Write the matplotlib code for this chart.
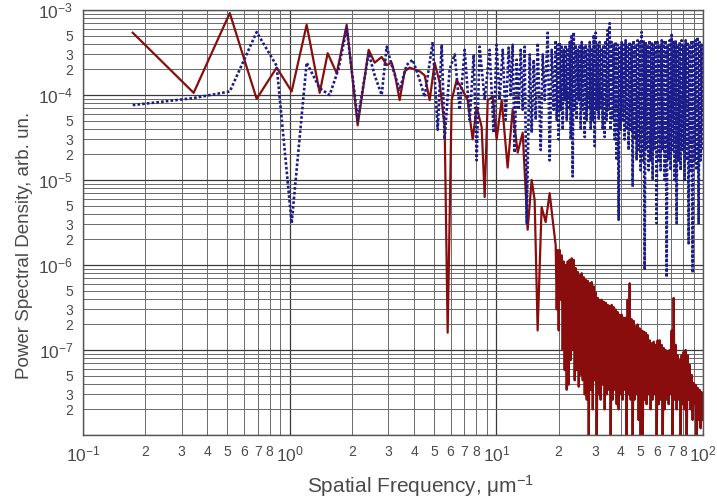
import numpy as np
import matplotlib.pyplot as plt
from matplotlib.ticker import LogLocator, FuncFormatter

plt.rcParams['font.family'] = ['Liberation Sans', 'DejaVu Sans']
plt.rcParams['mathtext.fontset'] = 'custom'
plt.rcParams['mathtext.rm'] = 'Liberation Sans'
plt.rcParams['mathtext.it'] = 'Liberation Sans:italic'

# low-frequency part of each spectrum (um^-1, arb. un.)
red_lf_freq = [0.174, 0.343, 0.513, 0.692, 0.865, 1.022, 1.208, 1.397, 1.527, 1.688,
               1.887, 2.133, 2.411, 2.578, 2.787, 2.947, 3.115, 3.221, 3.405, 3.601,
               3.807, 4.024, 4.255, 4.499, 4.757, 5.029, 5.317, 5.622, 5.813, 6.078,
               6.427, 6.795, 7.263, 7.68, 8.03, 8.49, 8.78, 9.08, 9.60, 10.03,
               10.61, 11.34, 11.99, 12.68, 13.41, 14.17, 14.82, 15.32, 15.84, 16.56,
               17.32, 18.11, 18.73]
red_lf_psd = [5.4e-4, 1.06e-4, 9.2e-4, 9.0e-5, 2.1e-4, 1.1e-4, 6.7e-4, 1.06e-4, 3.1e-4, 1.8e-4,
              6.7e-4, 4.4e-5, 3.4e-4, 2.4e-4, 2.8e-4, 2.25e-4, 2.4e-4, 1.8e-4, 8.7e-5, 1.9e-4,
              2.1e-4, 2.0e-4, 1.9e-4, 1.7e-4, 8.7e-5, 2.4e-4, 1.4e-4, 4.2e-5, 1.6e-7, 8.7e-5,
              1.5e-4, 1.2e-4, 8.7e-5, 3.0e-5, 7.2e-5, 4.2e-5, 6.3e-6, 8.7e-5, 9.5e-5, 3.0e-5,
              8.7e-5, 1.4e-5, 6.7e-5, 2.1e-5, 3.6e-5, 2.6e-6, 1.0e-5, 5.8e-6, 1.7e-7, 4.8e-6,
              3.2e-6, 7.0e-6, 3.4e-6]

blue_lf_freq = [0.174, 0.343, 0.513, 0.692, 0.865, 1.022, 1.208, 1.397, 1.561, 1.72,
                1.887, 2.133, 2.411, 2.578, 2.787, 2.947, 3.115, 3.405, 3.68, 3.94,
                4.255, 4.499, 4.92, 5.20, 5.44, 5.62, 5.94, 6.29, 6.645, 7.025,
                7.43, 7.77, 8.03, 8.30, 8.78, 9.28, 9.70, 10.03, 10.37, 10.73,
                11.09, 11.47, 11.73, 11.99, 12.26, 12.54, 12.82, 13.11, 13.41, 13.71,
                14.02, 14.50, 14.82, 15.16, 15.50, 15.85, 16.39, 16.76, 17.14, 17.72,
                18.12, 18.53, 18.94]
blue_lf_psd = [7.6e-5, 9.2e-5, 1.1e-4, 5.5e-4, 2.2e-4, 3.1e-6, 2.4e-4, 1.2e-4, 1.0e-4, 2.0e-4,
               6.1e-4, 5.1e-5, 3.1e-4, 1.7e-4, 1.0e-4, 3.7e-4, 2.25e-4, 1.15e-4, 2.25e-4, 2.6e-4,
               1.5e-4, 9.5e-5, 4.2e-4, 3.9e-5, 3.9e-4, 3.0e-5, 2.0e-4, 3.0e-4, 6.7e-5, 3.4e-4,
               5.1e-5, 3.0e-4, 1.7e-5, 3.7e-4, 8.7e-5, 3.4e-4, 3.6e-5, 3.9e-4, 8.7e-5, 3.4e-4,
               5.1e-5, 3.6e-4, 1.0e-4, 3.9e-4, 2.1e-5, 2.6e-4, 6.7e-5, 3.4e-4, 6.7e-5, 3.7e-4,
               3.1e-6, 3.0e-4, 3.6e-5, 2.6e-4, 5.1e-5, 4.1e-4, 2.25e-5, 3.0e-4, 8.7e-5, 5.4e-4,
               1.7e-5, 3.4e-4, 6.7e-5]

# high-frequency part, shared frequency samples for both spectra
hf_freq = [19.37, 19.59, 19.81, 20.03, 20.25, 20.48, 20.71, 20.94, 21.18, 21.41,
           21.65, 21.90, 22.14, 22.39, 22.64, 22.90, 23.15, 23.41, 23.68, 23.94,
           24.21, 24.48, 24.76, 25.04, 25.32, 25.60, 25.89, 26.18, 26.47, 26.77,
           27.07, 27.37, 27.68, 27.99, 28.30, 28.62, 28.94, 29.27, 29.60, 29.93,
           30.26, 30.60, 30.95, 31.29, 31.61, 31.96, 32.33, 32.69, 33.06, 33.43,
           33.80, 34.18, 34.56, 34.95, 35.34, 35.74, 36.14, 36.54, 36.95, 37.36,
           37.78, 38.20, 38.63, 39.06, 39.50, 39.94, 40.39, 40.84, 41.30, 41.76,
           42.23, 42.70, 43.18, 43.66, 44.16, 44.65, 45.15, 45.66, 46.17, 46.69,
           47.21, 47.74, 48.27, 48.81, 49.36, 49.91, 50.47, 51.04, 51.61, 52.19,
           52.77, 53.36, 53.96, 54.56, 55.18, 55.80, 56.42, 57.05, 57.69, 58.34,
           58.99, 59.65, 60.32, 61.00, 61.68, 62.37, 63.07, 63.78, 64.49, 65.21,
           65.94, 66.68, 67.43, 68.19, 68.95, 69.72, 70.50, 71.29, 72.09, 72.90,
           73.71, 74.54, 75.37, 76.21, 77.07, 77.93, 78.80, 79.68, 80.58, 81.48,
           82.39, 83.31, 84.25, 85.19, 86.14, 87.10, 88.08, 89.07, 90.06, 91.07,
           92.09, 93.12, 94.16, 95.21, 96.28, 97.36, 98.45, 100.0]
red_hf_psd = [1.7e-6, 3.0e-7, 1.5e-6, 1.7e-7, 1.5e-6, 3.9e-7, 1.3e-6, 1.0e-7, 1.1e-6, 5.8e-8,
              1.0e-6, 3.4e-8, 1.1e-6, 3.9e-8, 1.15e-6, 7.6e-8, 1.2e-6, 1.0e-7, 1.15e-6, 4.4e-8,
              9.2e-7, 5.8e-8, 8.3e-7, 3.7e-8, 7.6e-7, 5.1e-8, 8.0e-7, 4.4e-8, 7.2e-7, 3.0e-8,
              6.7e-7, 2.6e-8, 6.5e-7, 6e-9, 6.1e-7, 3.4e-8, 6.3e-7, 2.0e-8, 5.6e-7, 4.4e-8,
              4.8e-7, 6e-9, 4.1e-7, 3.0e-8, 3.9e-7, 2.6e-8, 3.9e-7, 3.9e-8, 3.7e-7, 2.0e-8,
              3.6e-7, 3.0e-8, 3.4e-7, 3.4e-8, 3.3e-7, 6e-9, 3.4e-7, 2.6e-8, 3.2e-7, 3.4e-8,
              3.0e-7, 2.3e-8, 2.8e-7, 2.0e-8, 2.6e-7, 3.0e-8, 2.6e-7, 2.6e-8, 2.4e-7, 3.4e-8,
              2.4e-7, 6e-9, 3.9e-7, 3.0e-8, 6.1e-7, 2.6e-8, 2.3e-7, 6e-9, 2.2e-7, 2.6e-8,
              1.9e-7, 3.0e-8, 2.0e-7, 1.5e-8, 1.8e-7, 6e-9, 1.7e-7, 6e-9, 1.65e-7, 2.6e-8,
              1.6e-7, 2.3e-8, 1.5e-7, 3.0e-8, 1.3e-7, 2.0e-8, 1.2e-7, 2.6e-8, 1.25e-7, 3.0e-8,
              1.15e-7, 6e-9, 1.3e-7, 2.3e-8, 1.3e-7, 2.6e-8, 1.15e-7, 6e-9, 1.06e-7, 2.0e-8,
              1.0e-7, 2.6e-8, 9.5e-8, 2.3e-8, 1.0e-7, 3.0e-8, 1.7e-7, 6e-9, 4.1e-7, 2.6e-8,
              1.15e-7, 2.0e-8, 8.7e-8, 2.6e-8, 7.6e-8, 6e-9, 8.7e-8, 2.3e-8, 9.5e-8, 2.0e-8,
              1.0e-7, 6e-9, 8.7e-8, 2.6e-8, 6.7e-8, 2.0e-8, 5.1e-8, 1.5e-8, 4.1e-8, 2.3e-8,
              3.9e-8, 6e-9, 3.6e-8, 1.5e-8, 3.4e-8, 1.2e-8, 3.2e-8, 1.5e-8]
blue_hf_psd = [4.4e-4, 5.1e-5, 3.9e-4, 3.0e-5, 4.2e-4, 6.7e-5, 3.9e-4, 3.9e-5, 3.4e-4, 8.7e-5,
               3.9e-4, 5.1e-5, 3.6e-4, 6.7e-5, 4.2e-4, 3.0e-5, 5.1e-4, 1.1e-5, 5.5e-4, 6.7e-5,
               3.9e-4, 5.1e-5, 3.4e-4, 8.7e-5, 3.9e-4, 3.9e-5, 4.2e-4, 6.7e-5, 3.6e-4, 3.2e-5,
               3.9e-4, 5.1e-5, 3.4e-4, 6.7e-5, 4.2e-4, 3.9e-5, 3.6e-4, 5.1e-5, 5.1e-4, 2.5e-5,
               5.4e-4, 6.7e-5, 3.9e-4, 5.1e-5, 4.2e-4, 6.7e-5, 3.6e-4, 3.9e-5, 3.9e-4, 3.2e-5,
               4.4e-4, 5.1e-5, 5.8e-4, 6.7e-5, 7.0e-4, 3.9e-5, 4.2e-4, 5.1e-5, 3.9e-4, 3.0e-5,
               4.2e-4, 1.7e-5, 3.9e-4, 3.4e-6, 3.6e-4, 3.9e-5, 4.2e-4, 5.1e-5, 3.9e-4, 3.0e-5,
               4.4e-4, 3.9e-5, 3.9e-4, 2.25e-5, 4.2e-4, 3.9e-5, 3.9e-4, 8.3e-6, 4.4e-4, 3.0e-5,
               3.9e-4, 1.7e-5, 4.4e-4, 2.25e-5, 4.2e-4, 1.3e-5, 5.5e-4, 1.7e-5, 4.4e-4, 8.7e-7,
               4.2e-4, 2.25e-5, 3.9e-4, 1.3e-5, 4.4e-4, 1.7e-5, 4.2e-4, 1.0e-5, 3.9e-4, 2.25e-5,
               4.4e-4, 3.1e-6, 4.2e-4, 1.7e-5, 3.9e-4, 1.3e-5, 4.4e-4, 2.25e-5, 4.2e-4, 1.0e-5,
               4.4e-4, 7.2e-7, 3.9e-4, 1.7e-5, 4.4e-4, 1.3e-5, 5.1e-4, 2.25e-5, 4.2e-4, 1.0e-5,
               4.4e-4, 3.1e-6, 3.9e-4, 1.7e-5, 4.2e-4, 1.3e-5, 4.4e-4, 2.25e-5, 3.9e-4, 1.0e-5,
               4.4e-4, 1.7e-5, 4.2e-4, 1.8e-6, 3.9e-4, 1.3e-5, 4.4e-4, 8.1e-7, 4.2e-4, 1.7e-5,
               4.4e-4, 1.3e-5, 4.8e-4, 3.1e-6, 4.2e-4, 1.7e-5, 3.9e-4, 2.25e-5]

x_label = 'Spatial Frequency, \u03bcm$^{-1}$'
y_label = 'Power Spectral Density, arb. un.'

text_color = '#4a4a4a'

red_freq = red_lf_freq + hf_freq
red_psd = red_lf_psd + red_hf_psd
blue_freq = blue_lf_freq + hf_freq
blue_psd = blue_lf_psd + blue_hf_psd

fig = plt.figure(figsize=(7.17, 5.04), dpi=100)
ax = fig.add_axes([0.1158, 0.1369, 0.8647, 0.8433])

ax.set_xscale('log')
ax.set_yscale('log')
ax.set_xlim(0.1, 100)
ax.set_ylim(1e-8, 1e-3)

# log grid with every decade subdivision
ax.xaxis.set_major_locator(LogLocator(base=10, numticks=10))
ax.xaxis.set_minor_locator(LogLocator(base=10, subs=np.arange(2, 10), numticks=20))
ax.yaxis.set_major_locator(LogLocator(base=10, numticks=10))
ax.yaxis.set_minor_locator(LogLocator(base=10, subs=np.arange(2, 10), numticks=20))


def major_fmt(skip=None):
    def fmt(v, pos):
        p = int(round(np.log10(v)))
        if p == skip:
            return ''
        return '$10^{%d}$' % p
    return fmt


def minor_fmt(keep):
    def fmt(v, pos):
        m = int(round(v / 10 ** np.floor(np.log10(v) + 1e-9)))
        return str(m) if m in keep else ''
    return fmt


ax.xaxis.set_major_formatter(FuncFormatter(major_fmt()))
ax.yaxis.set_major_formatter(FuncFormatter(major_fmt(skip=-8)))
ax.xaxis.set_minor_formatter(FuncFormatter(minor_fmt((2, 3, 4, 5, 6, 7, 8))))
ax.yaxis.set_minor_formatter(FuncFormatter(minor_fmt((2, 3, 5))))

ax.tick_params(which='major', length=0, labelsize=12.5, colors=text_color, pad=7)
ax.tick_params(which='minor', length=0, labelsize=10, colors=text_color, pad=7)

ax.grid(True, which='major', color='#3a3a3a', linewidth=0.9)
ax.grid(True, which='minor', color='#6a6a6a', linewidth=0.7)
ax.set_axisbelow(True)

for s in ax.spines.values():
    s.set_color('#555555')
    s.set_linewidth(1.0)

ax.plot(red_freq, red_psd, color='#8a0d0d', linewidth=1.6)
ax.plot(blue_freq, blue_psd, color='#1c1c8a', linewidth=1.9, linestyle=(0, (1, 0.8)))

ax.set_xlabel(x_label, fontsize=15, color=text_color)
ax.xaxis.set_label_coords(0.545, -0.09)
ax.set_ylabel(y_label, fontsize=13.5, color=text_color)
ax.yaxis.set_label_coords(-0.08, 0.445)

fig.savefig('out.png', dpi=100)
